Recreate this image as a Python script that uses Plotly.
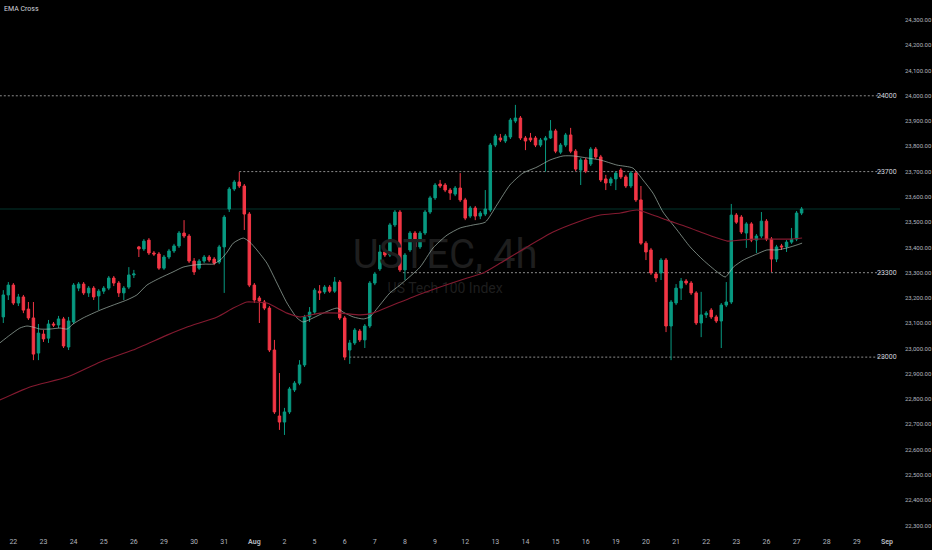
import plotly.graph_objects as go

# ---- data (USTEC 4h) ----
bar_open = [23125,23212,23251,23180,23204,23156,23121,22982,23057,23041,
            23097,23093,23117,23006,23105,23239,23255,23220,23239,23208,
            23227,23239,23279,23259,23220,23243,23291,23402,23394,23429,
            23378,23374,23318,23362,23386,23406,23457,23445,23346,23318,
            23346,23362,23354,23342,23402,23552,23631,23659,23643,23532,
            23251,23200,23184,23160,22994,22733,22709,22749,22836,22863,
            22935,23125,23144,23227,23224,23243,23227,23263,23121,22994,
            23022,23069,23034,23089,23259,23315,23382,23370,23489,23540,
            23311,23390,23457,23402,23457,23540,23596,23651,23647,23627,
            23611,23635,23588,23524,23556,23524,23532,23548,23805,23833,
            23821,23837,23900,23912,23833,23833,23833,23805,23825,23833,
            23861,23777,23805,23845,23781,23706,23746,23730,23789,23758,
            23671,23655,23671,23706,23679,23643,23694,23588,23417,23390,
            23295,23299,23350,23089,23180,23239,23267,23259,23220,23101,
            23133,23152,23125,23109,23172,23184,23528,23520,23457,23493,
            23429,23445,23504,23433,23354,23406,23402,23421,23433,23536]
bar_high = [23231,23263,23259,23216,23212,23184,23184,23097,23073,23113,
            23105,23129,23125,23125,23259,23263,23263,23247,23247,23235,
            23247,23287,23287,23267,23247,23322,23311,23406,23433,23437,
            23386,23382,23370,23394,23414,23465,23508,23453,23358,23354,
            23370,23370,23362,23410,23528,23639,23667,23698,23651,23540,
            23259,23208,23192,23168,23034,22903,22765,22848,22871,22954,
            23133,23164,23239,23251,23251,23251,23283,23271,23129,23034,
            23081,23077,23097,23267,23303,23410,23390,23497,23548,23548,
            23378,23465,23465,23465,23548,23604,23655,23667,23655,23635,
            23643,23694,23596,23564,23564,23544,23627,23813,23849,23849,
            23849,23912,23964,23920,23841,23853,23841,23833,23841,23904,
            23869,23813,23853,23873,23789,23754,23754,23797,23797,23766,
            23687,23679,23702,23714,23687,23702,23702,23643,23425,23398,
            23303,23358,23358,23192,23255,23279,23275,23267,23227,23224,
            23148,23160,23133,23180,23263,23572,23536,23528,23500,23500,
            23453,23540,23512,23441,23410,23414,23429,23477,23544,23560]
bar_low = [23101,23192,23172,23168,23140,23113,22954,22954,23026,23022,
           23085,23081,23002,22994,23097,23227,23212,23204,23192,23152,
           23216,23231,23247,23204,23192,23235,23279,23362,23386,23370,
           23366,23311,23311,23354,23378,23398,23437,23338,23291,23311,
           23338,23342,23330,23334,23220,23540,23623,23635,23469,23243,
           23180,23101,23152,22986,22741,22678,22658,22741,22828,22855,
           22927,23105,23137,23192,23216,23220,23220,23113,22954,22939,
           23014,23026,23002,23081,23251,23307,23362,23362,23481,23303,
           23271,23382,23394,23394,23449,23532,23588,23635,23619,23588,
           23603,23580,23508,23516,23508,23512,23524,23540,23797,23817,
           23813,23829,23892,23825,23785,23817,23797,23797,23700,23829,
           23773,23769,23797,23773,23702,23647,23694,23722,23750,23659,
           23627,23643,23627,23671,23635,23635,23580,23410,23350,23291,
           23263,23271,23065,22954,23172,23192,23251,23212,23093,23045,
           23121,23117,23101,23002,23164,23176,23493,23453,23398,23421,
           23378,23437,23425,23303,23342,23390,23382,23414,23425,23528]
bar_close = [23212,23251,23180,23204,23152,23121,22978,23061,23038,23097,
             23093,23117,23010,23109,23251,23255,23220,23239,23204,23227,
             23239,23279,23259,23220,23239,23291,23295,23394,23425,23378,
             23374,23318,23362,23386,23406,23457,23445,23346,23303,23346,
             23362,23350,23338,23402,23520,23631,23659,23643,23532,23251,
             23192,23188,23160,22994,22749,22709,22749,22840,22863,22935,
             23125,23144,23231,23220,23243,23227,23263,23121,22966,23022,
             23073,23034,23089,23259,23295,23382,23370,23489,23540,23311,
             23370,23457,23402,23457,23540,23596,23647,23643,23627,23615,
             23635,23588,23516,23556,23524,23536,23552,23805,23841,23825,
             23841,23904,23912,23833,23821,23825,23805,23825,23833,23861,
             23781,23805,23845,23781,23710,23746,23702,23789,23758,23667,
             23655,23671,23694,23679,23643,23694,23588,23417,23382,23299,
             23279,23350,23089,23184,23239,23267,23259,23220,23101,23133,
             23140,23125,23109,23172,23184,23528,23500,23461,23493,23429,
             23445,23504,23433,23354,23402,23402,23421,23433,23536,23552]

# EMA readings (bar index, value)
ema_fast_idx = [-0.7,1.3,3.3,4.7,5.9,7.3,9.3,11.3,12.7,13.9,15.9,19.3,21.9,24.6,26.6,28.6,31.2,33.8,35.8,37.8,
                40.2,41.8,43.2,44.6,45.8,47.8,49.1,50.5,52.5,54.5,56.5,58.5,59.7,61.7,63.7,66.5,67.7,69.7,71.7,73.0,
                75.0,77.0,79.0,83.0,85.6,88.4,91.0,93.6,96.0,98.3,100.9,103.5,106.3,108.9,111.5,113.5,116.3,118.9,122.2,125.4,
                127.4,129.4,131.4,134.2,136.8,139.4,142.2,143.8,145.4,147.4,150.1,152.1,154.1,156.1,158.1,159.1]
ema_fast_val = [23022,23053,23081,23089,23085,23077,23077,23081,23077,23097,23121,23152,23172,23192,23212,23251,23279,23303,23322,23330,
                23334,23334,23350,23382,23417,23437,23421,23390,23338,23259,23180,23121,23105,23121,23140,23160,23144,23125,23117,23125,
                23172,23220,23251,23322,23398,23449,23477,23489,23500,23568,23647,23694,23718,23746,23762,23762,23754,23746,23726,23714,
                23667,23615,23540,23469,23402,23350,23303,23283,23322,23350,23374,23390,23390,23398,23410,23417]
ema_slow_idx = [-0.7,5.3,12.7,19.3,25.8,32.6,36.6,42.6,45.8,48.5,49.7,52.5,56.5,59.1,63.1,67.1,71.1,73.6,77.6,81.6,
                87.0,92.4,95.6,99.0,104.3,109.5,114.3,118.9,122.9,126.2,129.4,132.2,136.2,139.4,142.2,144.2,146.7,150.1,153.3,156.7,159.1]
ema_slow_val = [22796,22848,22887,22947,22994,23053,23085,23125,23160,23184,23184,23180,23140,23125,23140,23140,23133,23140,23172,23204,
                23243,23279,23299,23338,23402,23461,23500,23528,23536,23548,23528,23508,23481,23457,23437,23425,23429,23433,23433,23433,23437]

day_labels = ["22","23","24","25","26","29","30","31","<b>Aug</b>","2","5","6","7","8","9","12","13","14","15",
              "16","19","20","21","22","23","26","27","28","29","<b>Sep</b>"]
price_ticks = [22300 + 100 * i for i in range(21)]
level_values = [24000, 23700, 23300, 22966]
level_labels = ["24000", "23700", "23300", "23000"]
level_start = [-0.7, 47, 79.6, 68.9]

bars = list(range(len(bar_close)))
X0, X1 = -0.66, 178.6
Y0, Y1 = 22274, 24379

fig = go.Figure()

# watermark (behind candles)
fig.add_trace(go.Scatter(x=[88, 88], y=[23358, 23232], mode="text",
                         text=["USTEC, 4h", "US Tech 100 Index"],
                         textfont=dict(size=[40, 14], color="#1e1e1e", family="Roboto"),
                         hoverinfo="skip", showlegend=False))

fig.add_trace(go.Candlestick(
    x=bars, open=bar_open, high=bar_high, low=bar_low, close=bar_close,
    increasing=dict(line=dict(color="#089981", width=1), fillcolor="#089981"),
    decreasing=dict(line=dict(color="#f23645", width=1), fillcolor="#f23645"),
    whiskerwidth=0, showlegend=False))

fig.add_trace(go.Scatter(x=ema_fast_idx, y=ema_fast_val, mode="lines",
                         line=dict(color="rgba(175,195,185,0.65)", width=1, shape="spline", smoothing=0.6),
                         showlegend=False, hoverinfo="skip"))
fig.add_trace(go.Scatter(x=ema_slow_idx, y=ema_slow_val, mode="lines",
                         line=dict(color="#841a30", width=1.1, shape="spline", smoothing=0.6),
                         showlegend=False, hoverinfo="skip"))

shapes = []
for v, xs in zip(level_values, level_start):
    shapes.append(dict(type="line", xref="x", yref="y", x0=xs, x1=175.4, y0=v, y1=v,
                       line=dict(color="rgba(200,200,200,0.7)", width=1, dash="2px,2px"), layer="below"))
# last price line
shapes.append(dict(type="line", xref="paper", yref="y", x0=0, x1=1, y0=bar_close[-1], y1=bar_close[-1],
                   line=dict(color="rgba(8,153,129,0.35)", width=1), layer="below"))

annotations = []
for v, t in zip(level_values, level_labels):
    annotations.append(dict(x=0.999, xref="paper", y=v, yref="y", text=t, showarrow=False,
                            xanchor="right", yanchor="middle",
                            font=dict(size=7, color="#d1d4dc", family="Roboto")))
annotations.append(dict(x=0.002, xref="paper", y=0.995, yref="paper", text="EMA Cross", showarrow=False,
                        xanchor="left", yanchor="top", font=dict(size=7, color="#d1d4dc", family="Roboto")))

fig.update_layout(
    width=932, height=550,
    margin=dict(l=0, r=32, t=0, b=18),
    paper_bgcolor="#000000", plot_bgcolor="#000000",
    shapes=shapes, annotations=annotations,
    xaxis=dict(range=[X0, X1], showgrid=False, zeroline=False, rangeslider=dict(visible=False),
               tickmode="array", tickvals=[2 + 6 * i for i in range(len(day_labels))], ticktext=day_labels,
               ticks="", ticklabelstandoff=4, tickfont=dict(size=7, color="#b2b5be", family="Roboto"),
               showline=False, fixedrange=True),
    yaxis=dict(range=[Y0, Y1], side="right", showgrid=False, zeroline=False,
               tickmode="array", tickvals=price_ticks, tickformat=",.2f",
               ticks="", ticklabelstandoff=4, tickfont=dict(size=6, color="#b2b5be", family="Roboto"),
               showline=False, fixedrange=True),
    showlegend=False,
)

fig.write_html("out.html", config={"displayModeBar": False},
               post_script="document.body.style.margin='0';document.body.style.background='#000';")
